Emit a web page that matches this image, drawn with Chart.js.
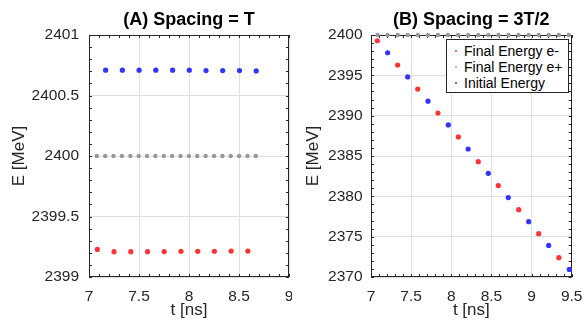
<!DOCTYPE html>
<html>
<head>
<meta charset="utf-8">
<script src="https://cdn.jsdelivr.net/npm/chart.js@4.4.1/dist/chart.umd.min.js"></script>
<style>
  html, body { margin: 0; padding: 0; background: #fff; }
  #wrap { position: relative; width: 584px; height: 322px; overflow: hidden;
          font-family: "Liberation Sans", Arial, sans-serif; }
  .panel { position: absolute; top: 0; }
  #legend { position: absolute; left: 446px; top: 39px; width: 123px; height: 54px;
            box-sizing: border-box; border: 1px solid #262626; background: #fff;
            font-size: 14px; color: #000; padding-top: 3px; }
  #legend .row { position: relative; height: 16px; line-height: 16px; padding-left: 17px; white-space: nowrap; }
  #legend .dot { position: absolute; left: 8px; top: 7px; width: 2px; height: 2px; border-radius: 1px; }
</style>
</head>
<body>
<div id="wrap">
  <canvas id="chartA" class="panel" style="left:0" width="292" height="322"></canvas>
  <canvas id="chartB" class="panel" style="left:292px" width="292" height="322"></canvas>
  <div id="legend"></div>
</div>
<script>
// ---- Data ------------------------------------------------------------------
// (A) Spacing = T
const aInitT = [7.166, 7.334, 7.501, 7.668, 7.836, 8.003, 8.170, 8.337, 8.505, 8.672];
const aInitE = [2400.709, 2400.709, 2400.709, 2400.709, 2400.709, 2400.709, 2400.706, 2400.706, 2400.706, 2400.703];
const aElecT = [7.083, 7.250, 7.418, 7.585, 7.752, 7.920, 8.087, 8.254, 8.421, 8.589];
const aElecE = [2399.228, 2399.209, 2399.209, 2399.209, 2399.210, 2399.212, 2399.212, 2399.213, 2399.214, 2399.214];
const aPosT  = [7.078, 7.162, 7.245, 7.329, 7.413, 7.497, 7.580, 7.664, 7.748, 7.831,
                7.915, 7.999, 8.082, 8.166, 8.250, 8.334, 8.417, 8.501, 8.585, 8.668];
const aPosE  = [2400, 2400, 2400, 2400, 2400, 2400, 2400, 2400, 2400, 2400,
                2400, 2400, 2400, 2400, 2400, 2400, 2400, 2400, 2400, 2400];

// (B) Spacing = 3T/2
const bInitT = [7.207, 7.457, 7.710, 7.963, 8.210, 8.461, 8.710, 8.964, 9.213, 9.470];
const bInitE = [2397.80, 2394.80, 2391.80, 2388.85, 2385.87, 2382.85, 2379.84, 2376.86, 2373.92, 2370.94];
const bElecT = [7.079, 7.332, 7.582, 7.834, 8.088, 8.336, 8.585, 8.840, 9.089, 9.340];
const bElecE = [2399.29, 2396.28, 2393.30, 2390.33, 2387.36, 2384.30, 2381.33, 2378.35, 2375.37, 2372.39];
const bPosT  = [7.082, 7.207, 7.333, 7.458, 7.584, 7.709, 7.834, 7.960, 8.085, 8.211,
                8.336, 8.461, 8.587, 8.712, 8.838, 8.963, 9.088, 9.214, 9.339, 9.464];
const bPosE  = [2400, 2400, 2400, 2400, 2400, 2400, 2400, 2400, 2400, 2400,
                2400, 2400, 2400, 2400, 2400, 2400, 2400, 2400, 2400, 2400];

const seriesNames = ["Final Energy e-", "Final Energy e+", "Initial Energy"];
const seriesColors = ["#ff3333", "#999999", "#3333ff"];

// ---- Helpers ---------------------------------------------------------------
const FONT = "'Liberation Sans', Arial, sans-serif";
const AX = "#262626";
const zip = (xs, ys) => xs.map((x, i) => ({ x, y: ys[i] }));

// MATLAB-like box with inward major/minor ticks
const boxPlugin = {
  id: "mbox",
  beforeDatasetsDraw(chart, args, o) {
    const { ctx, chartArea: a, scales: { x, y } } = chart;
    ctx.save();
    ctx.strokeStyle = AX;
    ctx.lineWidth = 1;
    ctx.beginPath();
    const L = 3;
    for (let v = x.min; v <= x.max + 1e-9; v += o.xMinor) {
      const p = Math.round(x.getPixelForValue(v)) + 0.5;
      ctx.moveTo(p, a.bottom); ctx.lineTo(p, a.bottom - L);
      ctx.moveTo(p, a.top); ctx.lineTo(p, a.top + L);
    }
    for (let v = y.min; v <= y.max + 1e-9; v += o.yMinor) {
      const p = Math.round(y.getPixelForValue(v)) + 0.5;
      ctx.moveTo(a.left, p); ctx.lineTo(a.left + L, p);
      ctx.moveTo(a.right, p); ctx.lineTo(a.right - L, p);
    }
    ctx.stroke();
    ctx.strokeRect(Math.round(a.left) + 0.5, Math.round(a.top) + 0.5,
                   Math.round(a.right - a.left) - 1, Math.round(a.bottom - a.top) - 1);
    ctx.restore();
  }
};

function makePanel(id, cfg) {
  const ds = [
    { label: seriesNames[0], data: zip(cfg.elecT, cfg.elecE), backgroundColor: seriesColors[0], pointRadius: 2.6 },
    { label: seriesNames[1], data: zip(cfg.posT, cfg.posE), backgroundColor: seriesColors[1], pointRadius: 2.2 },
    { label: seriesNames[2], data: zip(cfg.initT, cfg.initE), backgroundColor: seriesColors[2], pointRadius: 2.6 }
  ].map(d => Object.assign(d, { borderWidth: 0, pointBorderWidth: 0, showLine: false, clip: false, pointHoverRadius: 3 }));

  new Chart(document.getElementById(id), {
    type: "scatter",
    data: { datasets: ds },
    options: {
      responsive: false,
      animation: false,
      layout: { padding: { left: 0, right: cfg.padRight, top: 0, bottom: 0 } },
      plugins: {
        legend: { display: false },
        tooltip: { enabled: false },
        title: {
          display: true, text: cfg.title, color: "#000", fullSize: false,
          font: { family: FONT, size: 18, weight: "bold" },
          padding: { top: 9, bottom: 4.4 }
        },
        mbox: { xMinor: 0.1, yMinor: cfg.yMinor }
      },
      scales: {
        x: {
          type: "linear", min: cfg.xMin, max: cfg.xMax,
          grid: { color: "#dfdfdf", drawTicks: false },
          border: { display: false },
          ticks: { stepSize: 0.5, autoSkip: false, maxRotation: 0, padding: 10, color: AX,
                   font: { family: FONT, size: 15.5 }, callback: v => String(v) },
          title: { display: true, text: "t [ns]", color: AX, font: { family: FONT, size: 17 },
                   padding: { top: 0, bottom: 1 } },
          afterFit: s => { s.height = 45; s.paddingLeft = 0; s.paddingRight = 0; }
        },
        y: {
          type: "linear", min: cfg.yMin, max: cfg.yMax,
          grid: { color: "#dfdfdf", drawTicks: false },
          border: { display: false },
          ticks: { stepSize: cfg.yStep, autoSkip: false, padding: cfg.yTickPad, color: AX,
                   font: { family: FONT, size: 15.5 }, callback: v => String(v) },
          title: { display: true, text: "E [MeV]", color: AX, font: { family: FONT, size: 17 },
                   padding: { top: cfg.yTitlePad, bottom: 0 } },
          afterFit: s => { s.width = cfg.yWidth; s.paddingTop = 0; s.paddingBottom = 0; }
        }
      }
    },
    plugins: [boxPlugin]
  });
}

makePanel("chartA", {
  title: "(A) Spacing = T",
  elecT: aElecT, elecE: aElecE, posT: aPosT, posE: aPosE, initT: aInitT, initE: aInitE,
  xMin: 7, xMax: 9, yMin: 2399, yMax: 2401, yStep: 0.5, yMinor: 0.1,
  yWidth: 89, padRight: 2, yTickPad: 10, yTitlePad: 9
});

makePanel("chartB", {
  title: "(B) Spacing = 3T/2",
  elecT: bElecT, elecE: bElecE, posT: bPosT, posE: bPosE, initT: bInitT, initE: bInitE,
  xMin: 7, xMax: 9.5, yMin: 2370, yMax: 2400, yStep: 5, yMinor: 1,
  yWidth: 79, padRight: 12.3, yTickPad: 8.5, yTitlePad: 11.4
});

// ---- Legend (panel B) --------------------------------------------------------
const legendEl = document.getElementById("legend");
seriesNames.forEach((name, i) => {
  const row = document.createElement("div");
  row.className = "row";
  const dot = document.createElement("span");
  dot.className = "dot";
  dot.style.background = seriesColors[i];
  row.appendChild(dot);
  row.appendChild(document.createTextNode(name));
  legendEl.appendChild(row);
});
</script>
</body>
</html>
